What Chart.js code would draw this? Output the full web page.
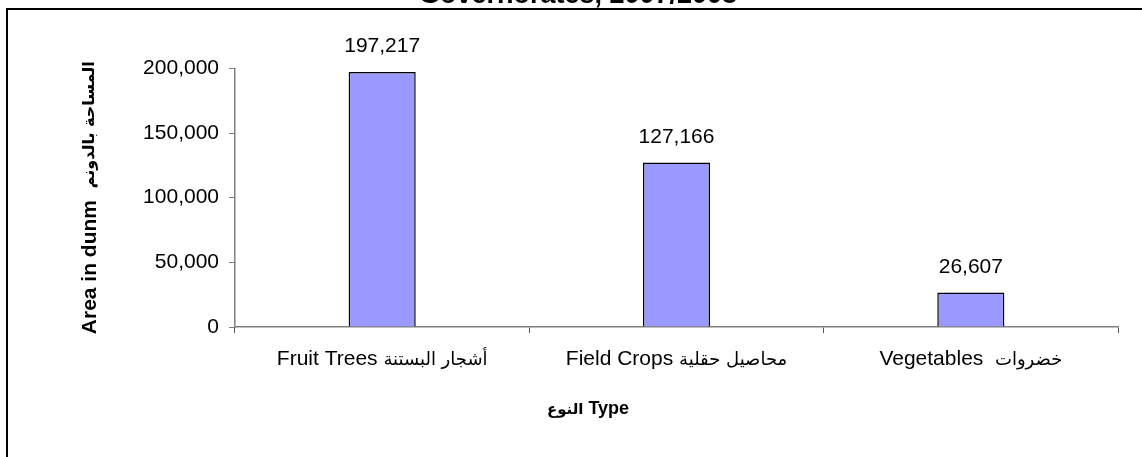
<!DOCTYPE html>
<html>
<head>
<meta charset="utf-8">
<script src="https://cdn.jsdelivr.net/npm/chart.js@4/dist/chart.umd.min.js"></script>
<style>
  html, body { margin: 0; padding: 0; background: #fff; overflow: hidden; width: 1142px; height: 457px; }
  #frame { position: absolute; left: 6px; top: 8px; width: 2000px; height: 1000px;
           border-left: 2px solid #000; border-top: 2px solid #000; }
  #areaChart { position: absolute; left: 0; top: -31px; }
</style>
</head>
<body>
<div id="frame"></div>
<canvas id="areaChart" width="1142" height="488"></canvas>
<script>
// 類別與數值 (面積，單位：dunum)
const categoriesEn = ['Fruit Trees', 'Field Crops', 'Vegetables'];
const categoriesAr = ['أشجار البستنة', 'محاصيل حقلية', 'خضروات'];
const areaValues = [197217, 127166, 26607];
const yTicks = [0, 50000, 100000, 150000, 200000];

const FONT = '"Liberation Sans", Arial, sans-serif';
const AR_FONT = '"DejaVu Sans", sans-serif';

// 混合字型 (英文 + 阿拉伯文) 的一行文字，以 x 為中心
function drawRuns(ctx, runs, x, y) {
    let total = 0;
    runs.forEach(r => { ctx.font = r.font; r.w = ctx.measureText(r.text).width; total += r.w; });
    let cx = x - total / 2;
    ctx.textAlign = 'left';
    runs.forEach(r => { ctx.font = r.font; ctx.fillText(r.text, cx, y); cx += r.w; });
}

// 數值標籤、類別標籤、座標軸標題
const textLayer = {
    id: 'textLayer',
    afterDraw(chart) {
        const ctx = chart.ctx;
        const area = chart.chartArea;
        const xScale = chart.scales.x;
        const meta = chart.getDatasetMeta(0);
        ctx.save();
        ctx.fillStyle = '#000';
        ctx.textBaseline = 'alphabetic';

        // 柱子上方數值
        ctx.font = '21px ' + FONT;
        ctx.textAlign = 'center';
        meta.data.forEach((bar, i) => {
            ctx.fillText(areaValues[i].toLocaleString('en-US'), bar.x, bar.y - 20);
        });

        // x 軸類別
        categoriesEn.forEach((en, i) => {
            const sep = i === 2 ? '  ' : ' ';
            drawRuns(ctx, [
                { text: en + sep, font: '21px ' + FONT },
                { text: categoriesAr[i], font: '18px ' + AR_FONT }
            ], xScale.getPixelForTick(i), area.bottom + 38);
        });

        // x 軸標題
        drawRuns(ctx, [
            { text: 'النوع', font: 'bold 15px ' + AR_FONT },
            { text: ' Type', font: 'bold 18px ' + FONT }
        ], 588, area.bottom + 87);

        // y 軸標題 (旋轉)
        ctx.translate(90, (area.top + area.bottom) / 2);
        ctx.rotate(-Math.PI / 2);
        ctx.textBaseline = 'middle';
        drawRuns(ctx, [
            { text: 'Area in dunm  ', font: 'bold 21px ' + FONT },
            { text: 'المساحة بالدونم', font: 'bold 16px ' + AR_FONT }
        ], 0, 0);
        ctx.restore();
    }
};

const ctx = document.getElementById('areaChart').getContext('2d');
new Chart(ctx, {
    type: 'bar',
    data: {
        labels: categoriesEn,
        datasets: [{
            data: areaValues,
            backgroundColor: '#9999FF',
            borderColor: '#000',
            borderWidth: 1.5,
            barPercentage: 0.228,
            categoryPercentage: 1,
        }],
    },
    options: {
        responsive: false,
        animation: false,
        layout: { padding: { left: 38, right: 24, top: 0, bottom: 60 } },
        plugins: {
            legend: { display: false },
            tooltip: { enabled: false },
            title: {
                display: true,
                text: 'Governorates, 2007/2008',
                color: '#000',
                font: { family: FONT, size: 27, weight: 'bold' },
                padding: { top: 10, bottom: 57 }
            }
        },
        scales: {
            x: {
                grid: { offset: true, drawOnChartArea: false, tickLength: 6, color: '#555' },
                border: { color: '#808080', width: 1.5 },
                ticks: { display: false },
                afterFit(scale) { scale.height = 70; }
            },
            y: {
                min: 0,
                max: 200000,
                afterBuildTicks(scale) { scale.ticks = yTicks.map(v => ({ value: v })); },
                grid: { drawOnChartArea: false, tickLength: 6, color: '#808080' },
                border: { color: '#808080', width: 1.5 },
                ticks: {
                    color: '#000', padding: 10,
                    font: { family: FONT, size: 21 },
                    callback: v => v.toLocaleString('en-US')
                },
                afterFit(scale) { scale.width = 197; }
            }
        }
    },
    plugins: [textLayer]
});
</script>
</body>
</html>
